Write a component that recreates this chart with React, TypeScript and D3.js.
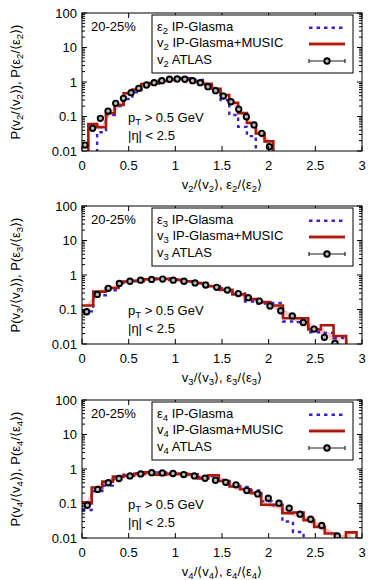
import React from "react";
import * as d3 from "d3";

// shared axes
const xTickValues = [0, 0.5, 1, 1.5, 2, 2.5, 3];
const xTickLabels = ["0", "0.5", "1", "1.5", "2", "2.5", "3"];
const yTickValues = [0.01, 0.1, 1, 10, 100];
const yTickLabels = ["0.01", "0.1", "1", "10", "100"];
const centrality = "20-25%";
const ptCut = " > 0.5 GeV";
const etaCut = "|η| < 2.5";

// v2 panel
const v2ModelEdges = [0.068, 0.162, 0.257, 0.351, 0.446, 0.54, 0.634, 0.729, 0.823, 0.918, 1.012, 1.106, 1.201, 1.295, 1.39, 1.484, 1.578, 1.673, 1.767, 1.862, 1.956, 2.05];
const v2Model = [0.06, 0.049, 0.124, 0.215, 0.47, 0.6, 0.87, 0.93, 1.08, 1.18, 1.25, 1.18, 1.02, 0.88, 0.64, 0.42, 0.25, 0.125, 0.065, 0.032, 0.019];
const e2Edges = [0.162, 0.257, 0.351, 0.446, 0.54, 0.634, 0.729, 0.823, 0.918, 1.012, 1.106, 1.201, 1.295, 1.39, 1.484, 1.578, 1.673, 1.767, 1.862];
const e2Glasma = [0.035, 0.11, 0.2, 0.32, 0.5, 0.72, 0.9, 1.08, 1.22, 1.3, 1.28, 1.15, 0.85, 0.55, 0.3, 0.11, 0.05, 0.027];
const v2AtlasX = [0.032, 0.114, 0.197, 0.279, 0.361, 0.444, 0.526, 0.608, 0.691, 0.773, 0.855, 0.938, 1.02, 1.102, 1.185, 1.267, 1.349, 1.432, 1.514, 1.596, 1.679, 1.761, 1.843, 1.926, 2.008];
const v2AtlasY = [0.0149, 0.0455, 0.0887, 0.144, 0.241, 0.337, 0.49, 0.656, 0.818, 0.955, 1.09, 1.2, 1.22, 1.2, 1.09, 0.955, 0.73, 0.56, 0.39, 0.268, 0.162, 0.0986, 0.0568, 0.0326, 0.0133];
const v2BandX = [0.115, 0.21, 0.304, 0.399, 0.493, 0.587, 0.682, 0.776, 0.871, 0.965, 1.059, 1.154, 1.248, 1.343, 1.437, 1.531, 1.626, 1.72, 1.815, 1.909, 2.003];
const v2BandLo = [0.051, 0.042, 0.105, 0.183, 0.4, 0.51, 0.74, 0.79, 0.92, 1.0, 1.06, 1.0, 0.87, 0.75, 0.54, 0.36, 0.21, 0.106, 0.055, 0.027, 0.012];
const v2BandHi = [0.069, 0.056, 0.143, 0.247, 0.54, 0.69, 1.0, 1.07, 1.24, 1.36, 1.44, 1.36, 1.17, 1.01, 0.74, 0.48, 0.29, 0.144, 0.075, 0.037, 0.022];

// v3 panel
const v3ModelEdges = [0, 0.1205, 0.256, 0.3915, 0.527, 0.6625, 0.798, 0.9335, 1.069, 1.2045, 1.34, 1.4755, 1.611, 1.7465, 1.882, 2.0175, 2.153, 2.2885, 2.424, 2.5595, 2.695, 2.8305];
const v3Model = [0.13, 0.33, 0.42, 0.65, 0.68, 0.75, 0.78, 0.72, 0.66, 0.58, 0.47, 0.37, 0.275, 0.2, 0.164, 0.13, 0.056, 0.056, 0.0266, 0.035, 0.017];
const e3Edges = v3ModelEdges;
const e3Glasma = [0.088, 0.26, 0.36, 0.58, 0.66, 0.76, 0.8, 0.74, 0.66, 0.56, 0.46, 0.42, 0.29, 0.17, 0.15, 0.155, 0.045, 0.043, 0.022, 0.021, 0.015];
const v3AtlasX = [0.05, 0.164, 0.282, 0.4, 0.514, 0.628, 0.746, 0.864, 0.978, 1.093, 1.211, 1.325, 1.443, 1.557, 1.675, 1.782, 1.9, 2.014, 2.129, 2.253, 2.371, 2.486, 2.597, 2.71];
const v3AtlasY = [0.086, 0.274, 0.41, 0.57, 0.66, 0.71, 0.745, 0.76, 0.71, 0.66, 0.59, 0.51, 0.44, 0.365, 0.29, 0.22, 0.175, 0.126, 0.092, 0.065, 0.042, 0.027, 0.0156, 0.0105];
const v3BandX = [0.06, 0.188, 0.324, 0.459, 0.595, 0.73, 0.866, 1.001, 1.137, 1.272, 1.408, 1.543, 1.679, 1.814, 1.95, 2.085, 2.221, 2.356, 2.492, 2.627, 2.763];
const v3BandLo = [0.11, 0.29, 0.38, 0.57, 0.62, 0.68, 0.7, 0.65, 0.6, 0.52, 0.42, 0.33, 0.245, 0.175, 0.14, 0.097, 0.058, 0.036, 0.023, 0.015, 0.0093];
const v3BandHi = [0.15, 0.37, 0.48, 0.71, 0.76, 0.82, 0.86, 0.79, 0.72, 0.64, 0.52, 0.41, 0.305, 0.225, 0.18, 0.133, 0.082, 0.054, 0.035, 0.023, 0.0147];

// v4 panel
const v4ModelEdges = [0, 0.104, 0.2175, 0.331, 0.4445, 0.558, 0.6715, 0.785, 0.8985, 1.012, 1.1255, 1.239, 1.3525, 1.466, 1.5795, 1.693, 1.8065, 1.92, 2.0335, 2.147, 2.2605, 2.374, 2.4875, 2.601, 2.7145, 2.828, 2.9415];
const v4Model = [0.108, 0.29, 0.43, 0.6, 0.64, 0.72, 0.8, 0.68, 0.72, 0.72, 0.7, 0.53, 0.66, 0.45, 0.31, 0.26, 0.2, 0.092, 0.092, 0.052, 0.055, 0.033, 0.021, 0.0135, 0.008, 0.0146];
const e4Edges = [0, 0.104, 0.2175, 0.331, 0.4445, 0.558, 0.6715, 0.785, 0.8985, 1.012, 1.1255, 1.239, 1.3525, 1.466, 1.5795, 1.693, 1.8065, 1.92, 2.0335, 2.147, 2.2605, 2.374];
const e4Glasma = [0.065, 0.23, 0.33, 0.5, 0.68, 0.75, 0.8, 0.8, 0.78, 0.72, 0.66, 0.58, 0.62, 0.48, 0.37, 0.3, 0.24, 0.115, 0.088, 0.03, 0.015];
const v4AtlasX = [0.057, 0.168, 0.282, 0.396, 0.514, 0.629, 0.746, 0.861, 0.975, 1.09, 1.204, 1.318, 1.43, 1.54, 1.65, 1.765, 1.882, 1.996, 2.11, 2.22, 2.336, 2.45, 2.568, 2.735];
const v4AtlasY = [0.089, 0.255, 0.4, 0.53, 0.63, 0.72, 0.78, 0.77, 0.74, 0.69, 0.63, 0.54, 0.47, 0.41, 0.347, 0.238, 0.19, 0.143, 0.102, 0.073, 0.049, 0.035, 0.023, 0.0115];
const v4BandX = [0.052, 0.161, 0.274, 0.388, 0.501, 0.615, 0.728, 0.842, 0.955, 1.069, 1.182, 1.296, 1.409, 1.523, 1.636, 1.75, 1.863, 1.977, 2.09, 2.204, 2.317, 2.431, 2.544, 2.658, 2.771, 2.885];
const v4BandLo = [0.092, 0.25, 0.37, 0.51, 0.55, 0.62, 0.67, 0.6, 0.62, 0.62, 0.58, 0.48, 0.53, 0.38, 0.265, 0.22, 0.17, 0.08, 0.072, 0.048, 0.039, 0.027, 0.018, 0.012, 0.0085, 0.0095];
const v4BandHi = [0.124, 0.33, 0.49, 0.69, 0.74, 0.83, 0.9, 0.8, 0.83, 0.83, 0.78, 0.64, 0.71, 0.52, 0.355, 0.3, 0.23, 0.11, 0.1, 0.068, 0.056, 0.039, 0.026, 0.017, 0.012, 0.014];

const panels = [
  { n: "2", top: 13, mEdges: v2ModelEdges, m: v2Model, eEdges: e2Edges, e: e2Glasma, ax: v2AtlasX, ay: v2AtlasY, bx: v2BandX, blo: v2BandLo, bhi: v2BandHi },
  { n: "3", top: 206, mEdges: v3ModelEdges, m: v3Model, eEdges: e3Edges, e: e3Glasma, ax: v3AtlasX, ay: v3AtlasY, bx: v3BandX, blo: v3BandLo, bhi: v3BandHi },
  { n: "4", top: 400, mEdges: v4ModelEdges, m: v4Model, eEdges: e4Edges, e: e4Glasma, ax: v4AtlasX, ay: v4AtlasY, bx: v4BandX, blo: v4BandLo, bhi: v4BandHi },
];

const W = 368;
const H = 580;
const left = 82;
const right = 362;
const plotH = 138;
const FS = 13;
const BLUE = "#3b22d0";
const RED = "#a81a0e";
const PINK = "#f9c6c6";
const FLOOR = 1e-4;

type Part = { t: string; sub?: boolean };

function Rich({ parts, x, y, anchor, transform }: { parts: Part[]; x: number; y: number; anchor?: string; transform?: string }) {
  let shift = 0;
  return (
    <text x={x} y={y} textAnchor={anchor ?? "start"} transform={transform} fontSize={FS} style={{ whiteSpace: "pre" }}>
      {parts.map((p, i) => {
        const target = p.sub ? 3 : 0;
        const dy = target - shift;
        shift = target;
        return (
          <tspan key={i} dy={dy} fontSize={p.sub ? 9.5 : FS}>
            {p.t}
          </tspan>
        );
      })}
    </text>
  );
}

function stepPoints(edges: number[], vals: number[]): [number, number][] {
  const pts: [number, number][] = [];
  if (edges[0] > 0) pts.push([edges[0], FLOOR]);
  vals.forEach((v, i) => {
    pts.push([edges[i], v]);
    pts.push([edges[i + 1], v]);
  });
  pts.push([edges[edges.length - 1], FLOOR]);
  return pts;
}

function Marker({ cx, cy }: { cx: number; cy: number }) {
  return <circle cx={cx} cy={cy} r={2.7} fill="#bbb" stroke="#000" strokeWidth={1.9} />;
}

function Panel({ p, idx }: { p: (typeof panels)[number]; idx: number }) {
  const T = p.top;
  const B = T + plotH;
  const x = d3.scaleLinear().domain([0, 3]).range([left, right]);
  const y = d3.scaleLog().domain([0.01, 100]).range([B, T]);
  const line = d3.line<[number, number]>().x((d) => x(d[0])).y((d) => y(d[1]));
  const area = d3
    .area<number>()
    .x((i) => x(p.bx[i]))
    .y0((i) => y(p.blo[i]))
    .y1((i) => y(p.bhi[i]));
  const minor = y.ticks().filter((t) => !yTickValues.some((v) => Math.abs(v - t) < 1e-9));
  const clipId = `clip${idx}`;
  const n = p.n;

  const legX = 157;
  const sx0 = 309;
  const sx1 = 345;

  return (
    <g>
      <defs>
        <clipPath id={clipId}>
          <rect x={left} y={T} width={right - left} height={plotH} />
        </clipPath>
      </defs>

      <g clipPath={`url(#${clipId})`}>
        <path d={area(p.bx.map((_, i) => i)) ?? ""} fill={PINK} />
        <path d={line(stepPoints(p.eEdges, p.e)) ?? ""} fill="none" stroke={BLUE} strokeWidth={2.4} strokeDasharray="3.5 4" />
        <path d={line(stepPoints(p.mEdges, p.m)) ?? ""} fill="none" stroke={RED} strokeWidth={2.6} />
        {p.ax.map((xv, i) => (
          <Marker key={i} cx={x(xv)} cy={y(p.ay[i])} />
        ))}
      </g>

      {/* ticks */}
      {xTickValues.map((t) => (
        <g key={`xt${t}`} stroke="#000" strokeWidth={1}>
          <line x1={x(t)} x2={x(t)} y1={B} y2={B - 5} />
          <line x1={x(t)} x2={x(t)} y1={T} y2={T + 5} />
        </g>
      ))}
      {yTickValues.map((t) => (
        <g key={`yt${t}`} stroke="#000" strokeWidth={1}>
          <line x1={left} x2={left + 5} y1={y(t)} y2={y(t)} />
          <line x1={right} x2={right - 5} y1={y(t)} y2={y(t)} />
        </g>
      ))}
      {minor.map((t) => (
        <g key={`ym${t}`} stroke="#000" strokeWidth={1}>
          <line x1={left} x2={left + 3} y1={y(t)} y2={y(t)} />
          <line x1={right} x2={right - 3} y1={y(t)} y2={y(t)} />
        </g>
      ))}
      <rect x={left} y={T} width={right - left} height={plotH} fill="none" stroke="#000" strokeWidth={1} />

      {/* tick labels */}
      {xTickValues.map((t, i) => (
        <text key={`xl${t}`} x={x(t)} y={B + 18.5} textAnchor="middle" fontSize={FS}>
          {xTickLabels[i]}
        </text>
      ))}
      {yTickValues.map((t, i) => (
        <text key={`yl${t}`} x={left - 5} y={y(t) + 4.5} textAnchor="end" fontSize={FS}>
          {yTickLabels[i]}
        </text>
      ))}

      {/* axis titles */}
      <Rich
        x={left + (right - left) / 2}
        y={T + 175.5}
        anchor="middle"
        parts={[{ t: "v" }, { t: n, sub: true }, { t: "/⟨v" }, { t: n, sub: true }, { t: "⟩, ε" }, { t: n, sub: true }, { t: "/⟨ε" }, { t: n, sub: true }, { t: "⟩" }]}
      />
      <Rich
        x={20}
        y={T + 69}
        anchor="middle"
        transform={`rotate(-90, 20, ${T + 69})`}
        parts={[{ t: "P(v" }, { t: n, sub: true }, { t: "/⟨v" }, { t: n, sub: true }, { t: "⟩), P(ε" }, { t: n, sub: true }, { t: "/⟨ε" }, { t: n, sub: true }, { t: "⟩)" }]}
      />

      {/* annotations */}
      <text x={91} y={T + 17.7} fontSize={FS}>
        {centrality}
      </text>
      <Rich x={128} y={T + 108.7} parts={[{ t: "p" }, { t: "T", sub: true }, { t: ptCut }]} />
      <text x={128} y={T + 127} fontSize={FS}>
        {etaCut}
      </text>

      {/* legend */}
      <rect x={152} y={T + 2} width={201} height={58} fill="#fff" stroke="#000" strokeWidth={1} />
      <Rich x={legX} y={T + 17.7} parts={[{ t: "ε" }, { t: n, sub: true }, { t: " IP-Glasma" }]} />
      <Rich x={legX} y={T + 34.4} parts={[{ t: "v" }, { t: n, sub: true }, { t: " IP-Glasma+MUSIC" }]} />
      <Rich x={legX} y={T + 51.1} parts={[{ t: "v" }, { t: n, sub: true }, { t: " ATLAS" }]} />
      <line x1={sx0} x2={sx1} y1={T + 14.7} y2={T + 14.7} stroke={BLUE} strokeWidth={2.4} strokeDasharray="3.5 4" />
      <line x1={sx0} x2={sx1} y1={T + 31} y2={T + 31} stroke={PINK} strokeWidth={4.5} />
      <line x1={sx0} x2={sx1} y1={T + 31} y2={T + 31} stroke={RED} strokeWidth={2.6} />
      <g stroke="#222" strokeWidth={1.2}>
        <line x1={sx0} x2={sx1} y1={T + 48} y2={T + 48} />
        <line x1={sx0} x2={sx0} y1={T + 46} y2={T + 50} />
        <line x1={sx1} x2={sx1} y1={T + 46} y2={T + 50} />
      </g>
      <Marker cx={(sx0 + sx1) / 2} cy={T + 48} />
    </g>
  );
}

export default function App() {
  return (
    <svg
      width={W}
      height={H}
      viewBox={`0 0 ${W} ${H}`}
      style={{ position: "absolute", left: 0, top: 0, background: "#fff" }}
      fontFamily="'Liberation Sans', Arial, Helvetica, sans-serif"
      fill="#000"
    >
      {panels.map((p, i) => (
        <Panel key={p.n} p={p} idx={i} />
      ))}
    </svg>
  );
}
